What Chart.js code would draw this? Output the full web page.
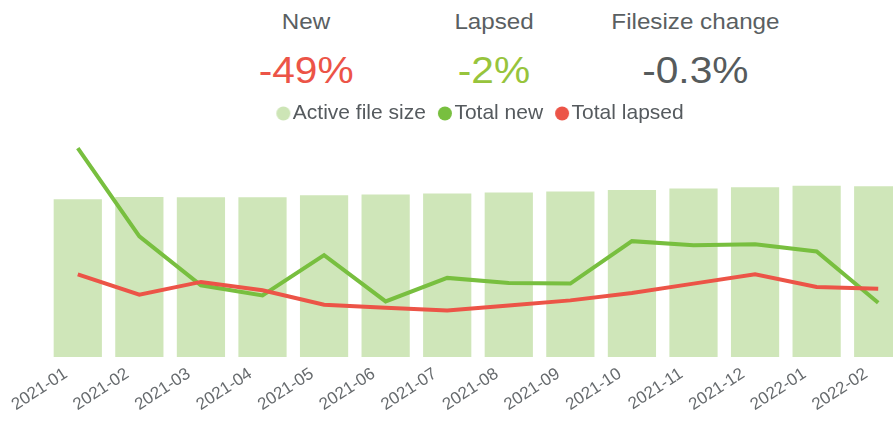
<!DOCTYPE html>
<html>
<head>
<meta charset="utf-8">
<script src="https://cdn.jsdelivr.net/npm/chart.js@4"></script>
<style>
  html, body { margin: 0; padding: 0; background: #fff; overflow: hidden; width: 893px; height: 421px; }
  body { font-family: "Liberation Sans", Arial, sans-serif; position: relative; }
  .kpi { position: absolute; width: 220px; text-align: center; }
  .kpi .lbl { font-size: 22px; color: #5a5f62; line-height: 24px; }
  .kpi .val { font-size: 37px; line-height: 40px; margin-top: 17px; }
  .kpi span { display: inline-block; transform: scaleX(1.1); }
  #wrap { position: absolute; left: 0; top: 86px; width: 912px; height: 336px; }
</style>
</head>
<body>
<div class="kpi" style="left:196px;top:10px"><div class="lbl"><span>New</span></div><div class="val" style="color:#ec5447"><span>-49%</span></div></div>
<div class="kpi" style="left:384px;top:10px"><div class="lbl"><span>Lapsed</span></div><div class="val" style="color:#97c43c"><span>-2%</span></div></div>
<div class="kpi" style="left:585px;top:10px"><div class="lbl"><span>Filesize change</span></div><div class="val" style="color:#565b5c"><span>-0.3%</span></div></div>
<div id="wrap"><canvas id="grafico" width="912" height="336"></canvas></div>
<script>
const meses = ["2021-01", "2021-02", "2021-03", "2021-04", "2021-05", "2021-06", "2021-07",
  "2021-08", "2021-09", "2021-10", "2021-11", "2021-12", "2022-01", "2022-02"];
const tamanhoArquivo = [157, 159.3, 159, 159, 161, 161.7, 162.7, 163.7, 164.7, 166.3, 167.7, 169, 170.5, 170];
const totalNovos = [208, 120, 71.3, 61.3, 101.3, 55.3, 78.7, 73.7, 73, 115.3, 111.3, 112.3, 105, 54];
const totalPerdidos = [82.3, 62, 74.7, 66.3, 52, 49, 46.3, 51.3, 56.3, 63.7, 73, 82.3, 69.7, 68];

const corBarra = "#cfe6b9";
const corNovos = "#78bf3f";
const corPerdidos = "#ec5447";

// bolinha da legenda desenhada num canvas pequeno (deslocada pra direita)
function bolinha(cor) {
  const c = document.createElement("canvas");
  c.width = 19;
  c.height = 15;
  const g = c.getContext("2d");
  g.fillStyle = cor;
  g.beginPath();
  g.arc(11, 7.5, 7, 0, Math.PI * 2);
  g.fill();
  return c;
}
const bolinhas = [bolinha("#cde5b6"), bolinha(corNovos), bolinha(corPerdidos)];

// empurra a legenda um pouco pra direita
const moveLegenda = {
  id: "moveLegenda",
  afterLayout(chart) {
    chart.legend.left += 9;
  },
};

const ctx = document.getElementById("grafico");
window.meuGrafico = new Chart(ctx, {
  type: "bar",
  data: {
    labels: meses,
    datasets: [
      {
        label: "Active file size",
        data: tamanhoArquivo,
        backgroundColor: corBarra,
        borderWidth: 0,
        barPercentage: 0.88,
        categoryPercentage: 0.89,
        order: 3,
      },
      {
        type: "line",
        label: "Total new",
        data: totalNovos,
        borderColor: corNovos,
        backgroundColor: corNovos,
        borderWidth: 4,
        pointRadius: 0,
        tension: 0,
        order: 2,
      },
      {
        type: "line",
        label: "Total lapsed",
        data: totalPerdidos,
        borderColor: corPerdidos,
        backgroundColor: corPerdidos,
        borderWidth: 4,
        pointRadius: 0,
        tension: 0,
        order: 1,
      },
    ],
  },
  plugins: [moveLegenda],
  options: {
    responsive: false,
    devicePixelRatio: 1,
    animation: false,
    layout: { padding: { left: 47, right: 3, top: 0, bottom: 0 } },
    plugins: {
      tooltip: { enabled: false },
      legend: {
        position: "top",
        labels: {
          usePointStyle: true,
          boxWidth: 1,
          padding: 17,
          color: "#555a5e",
          font: { family: "Liberation Sans", size: 21 },
          sort: (a, b) => a.datasetIndex - b.datasetIndex,
          generateLabels: (chart) => {
            const itens = Chart.defaults.plugins.legend.labels.generateLabels(chart);
            itens.forEach((item) => {
              item.pointStyle = bolinhas[item.datasetIndex];
            });
            return itens;
          },
        },
      },
    },
    scales: {
      x: {
        grid: { display: false, drawTicks: false },
        border: { display: false },
        ticks: {
          minRotation: 33,
          maxRotation: 33,
          padding: 7,
          labelOffset: -12,
          color: "#666a6d",
          font: { family: "Liberation Sans", size: 17 },
        },
      },
      y: {
        display: false,
        min: 0,
        max: 222,
      },
    },
  },
});
</script>
</body>
</html>
